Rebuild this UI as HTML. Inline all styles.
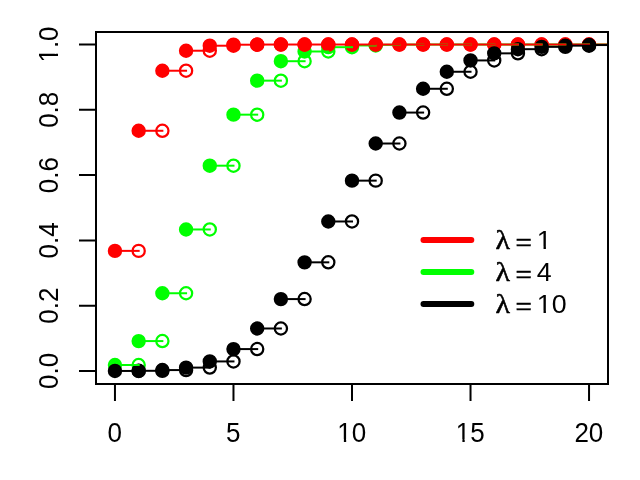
<!DOCTYPE html>
<html lang="en">
<head>
<meta charset="utf-8">
<title>Poisson cumulative distribution function</title>
<style>
html,body{margin:0;padding:0;background:#fff;overflow:hidden}
svg{display:block}
text{font-family:"Liberation Sans",sans-serif;font-size:26px;fill:#000}
.s{font-family:"Liberation Serif",serif}
.g{stroke:#0f0}.r{stroke:#f00}.k{stroke:#000}
circle.g{fill:#0f0}circle.r{fill:#f00}circle.k{fill:#000}
#pts circle.o{fill:none;stroke-width:2.25}
#pts *{stroke-width:2;stroke-linecap:square}
#pts path{fill:none}
</style>
</head>
<body>
<svg width="640" height="480" viewBox="0 0 640 480">
<rect width="640" height="480" fill="#fff"/>
<defs><clipPath id="a"><path d="M-5 -30H60V5H14.2V-2.6H8.84V5H6.54V-2.6H-5Z"/></clipPath><clipPath id="b"><path d="M-20 -30H20V5H-.8V-2.6H-5.62V5H-7.92V-2.6H-20Z"/></clipPath><clipPath id="d"><path d="M-25 -30H25V5H-4.4V-2.6H-9.23V5H-11.53V-2.6H-25Z"/></clipPath></defs>
<defs><clipPath id="c"><rect x="96" y="32" width="512" height="352"/></clipPath></defs>
<g id="pts" clip-path="url(#c)">
<path class="g" d="M589.04 44.52H612.74"/>
<circle class="r o" cx="589.04" cy="44.52" r="6.1"/>
<circle class="r" cx="589.04" cy="44.52" r="6.2"/>
<path class="r" d="M589.04 44.52H612.74"/>
<circle class="k o" cx="589.04" cy="45.65" r="6.1"/>
<circle class="k" cx="589.04" cy="45.04" r="6.2"/>
<path class="k" d="M589.04 45.04H612.74"/>
<path class="g" d="M565.33 44.52H589.04"/>
<circle class="r o" cx="565.33" cy="44.52" r="6.1"/>
<circle class="r" cx="565.33" cy="44.52" r="6.2"/>
<path class="r" d="M565.33 44.52H589.04"/>
<circle class="k o" cx="565.33" cy="46.86" r="6.1"/>
<circle class="k" cx="565.33" cy="45.65" r="6.2"/>
<path class="k" d="M565.33 45.65H589.04"/>
<path class="g" d="M541.63 44.52H565.33"/>
<circle class="r o" cx="541.63" cy="44.52" r="6.1"/>
<circle class="r" cx="541.63" cy="44.52" r="6.2"/>
<path class="r" d="M541.63 44.52H565.33"/>
<circle class="k o" cx="541.63" cy="49.18" r="6.1"/>
<circle class="k" cx="541.63" cy="46.86" r="6.2"/>
<path class="k" d="M541.63 46.86H565.33"/>
<path class="g" d="M517.93 44.52H541.63"/>
<circle class="r o" cx="517.93" cy="44.52" r="6.1"/>
<circle class="r" cx="517.93" cy="44.52" r="6.2"/>
<path class="r" d="M517.93 44.52H541.63"/>
<circle class="k o" cx="517.93" cy="53.35" r="6.1"/>
<circle class="k" cx="517.93" cy="49.18" r="6.2"/>
<path class="k" d="M517.93 49.18H541.63"/>
<path class="g" d="M494.22 44.52H517.93"/>
<circle class="r o" cx="494.22" cy="44.52" r="6.1"/>
<circle class="r" cx="494.22" cy="44.52" r="6.2"/>
<path class="r" d="M494.22 44.52H517.93"/>
<circle class="k o" cx="494.22" cy="60.43" r="6.1"/>
<circle class="k" cx="494.22" cy="53.35" r="6.2"/>
<path class="k" d="M494.22 53.35H517.93"/>
<path class="g" d="M470.52 44.52H494.22"/>
<circle class="r o" cx="470.52" cy="44.52" r="6.1"/>
<circle class="r" cx="470.52" cy="44.52" r="6.2"/>
<path class="r" d="M470.52 44.52H494.22"/>
<circle class="k o" cx="470.52" cy="71.76" r="6.1"/>
<circle class="k" cx="470.52" cy="60.43" r="6.2"/>
<path class="k" d="M470.52 60.43H494.22"/>
<path class="g" d="M446.81 44.53H470.52"/>
<circle class="r o" cx="446.81" cy="44.52" r="6.1"/>
<circle class="r" cx="446.81" cy="44.52" r="6.2"/>
<path class="r" d="M446.81 44.52H470.52"/>
<circle class="k o" cx="446.81" cy="88.77" r="6.1"/>
<circle class="k" cx="446.81" cy="71.76" r="6.2"/>
<path class="k" d="M446.81 71.76H470.52"/>
<path class="g" d="M423.11 44.54H446.81"/>
<circle class="r o" cx="423.11" cy="44.52" r="6.1"/>
<circle class="r" cx="423.11" cy="44.52" r="6.2"/>
<path class="r" d="M423.11 44.52H446.81"/>
<circle class="k o" cx="423.11" cy="112.57" r="6.1"/>
<circle class="k" cx="423.11" cy="88.77" r="6.2"/>
<path class="k" d="M423.11 88.77H446.81"/>
<path class="g" d="M399.41 44.61H423.11"/>
<circle class="r o" cx="399.41" cy="44.52" r="6.1"/>
<circle class="r" cx="399.41" cy="44.52" r="6.2"/>
<path class="r" d="M399.41 44.52H423.11"/>
<circle class="k o" cx="399.41" cy="143.51" r="6.1"/>
<circle class="k" cx="399.41" cy="112.57" r="6.2"/>
<path class="k" d="M399.41 112.57H423.11"/>
<circle class="g o" cx="375.7" cy="45.45" r="6.1"/>
<path class="g" d="M375.7 44.82H399.41"/>
<circle class="r o" cx="375.7" cy="44.52" r="6.1"/>
<circle class="r" cx="375.7" cy="44.52" r="6.2"/>
<path class="r" d="M375.7 44.52H399.41"/>
<circle class="k o" cx="375.7" cy="180.64" r="6.1"/>
<circle class="k" cx="375.7" cy="143.51" r="6.2"/>
<path class="k" d="M375.7 143.51H399.41"/>
<circle class="g o" cx="352" cy="47.17" r="6.1"/>
<circle class="g" cx="352" cy="45.45" r="6.2"/>
<path class="g" d="M352 45.45H375.7"/>
<circle class="r o" cx="352" cy="44.52" r="6.1"/>
<circle class="r" cx="352" cy="44.52" r="6.2"/>
<path class="r" d="M352 44.52H375.7"/>
<circle class="k o" cx="352" cy="221.48" r="6.1"/>
<circle class="k" cx="352" cy="180.64" r="6.2"/>
<path class="k" d="M352 180.64H375.7"/>
<circle class="g o" cx="328.3" cy="51.49" r="6.1"/>
<circle class="g" cx="328.3" cy="47.17" r="6.2"/>
<path class="g" d="M328.3 47.17H352"/>
<circle class="r o" cx="328.3" cy="44.52" r="6.1"/>
<circle class="r" cx="328.3" cy="44.52" r="6.2"/>
<path class="r" d="M328.3 44.52H352"/>
<circle class="k o" cx="328.3" cy="262.33" r="6.1"/>
<circle class="k" cx="328.3" cy="221.48" r="6.2"/>
<path class="k" d="M328.3 221.48H352"/>
<circle class="g o" cx="304.59" cy="61.21" r="6.1"/>
<circle class="g" cx="304.59" cy="51.49" r="6.2"/>
<path class="g" d="M304.59 51.49H328.3"/>
<circle class="r o" cx="304.59" cy="44.52" r="6.1"/>
<circle class="r" cx="304.59" cy="44.52" r="6.2"/>
<path class="r" d="M304.59 44.52H328.3"/>
<circle class="k o" cx="304.59" cy="299.08" r="6.1"/>
<circle class="k" cx="304.59" cy="262.33" r="6.2"/>
<path class="k" d="M304.59 262.33H328.3"/>
<circle class="g o" cx="280.89" cy="80.65" r="6.1"/>
<circle class="g" cx="280.89" cy="61.21" r="6.2"/>
<path class="g" d="M280.89 61.21H304.59"/>
<circle class="r o" cx="280.89" cy="44.55" r="6.1"/>
<circle class="r" cx="280.89" cy="44.52" r="6.2"/>
<path class="r" d="M280.89 44.52H304.59"/>
<circle class="k o" cx="280.89" cy="328.49" r="6.1"/>
<circle class="k" cx="280.89" cy="299.08" r="6.2"/>
<path class="k" d="M280.89 299.08H304.59"/>
<circle class="g o" cx="257.19" cy="114.66" r="6.1"/>
<circle class="g" cx="257.19" cy="80.65" r="6.2"/>
<path class="g" d="M257.19 80.65H280.89"/>
<circle class="r o" cx="257.19" cy="44.71" r="6.1"/>
<circle class="r" cx="257.19" cy="44.55" r="6.2"/>
<path class="r" d="M257.19 44.55H280.89"/>
<circle class="k o" cx="257.19" cy="349.08" r="6.1"/>
<circle class="k" cx="257.19" cy="328.49" r="6.2"/>
<path class="k" d="M257.19 328.49H280.89"/>
<circle class="g o" cx="233.48" cy="165.69" r="6.1"/>
<circle class="g" cx="233.48" cy="114.66" r="6.2"/>
<path class="g" d="M233.48 114.66H257.19"/>
<circle class="r o" cx="233.48" cy="45.71" r="6.1"/>
<circle class="r" cx="233.48" cy="44.71" r="6.2"/>
<path class="r" d="M233.48 44.71H257.19"/>
<circle class="k o" cx="233.48" cy="361.43" r="6.1"/>
<circle class="k" cx="233.48" cy="349.08" r="6.2"/>
<path class="k" d="M233.48 349.08H257.19"/>
<circle class="g o" cx="209.78" cy="229.47" r="6.1"/>
<circle class="g" cx="209.78" cy="165.69" r="6.2"/>
<path class="g" d="M209.78 165.69H233.48"/>
<circle class="r o" cx="209.78" cy="50.72" r="6.1"/>
<circle class="r" cx="209.78" cy="45.71" r="6.2"/>
<path class="r" d="M209.78 45.71H233.48"/>
<circle class="k o" cx="209.78" cy="367.6" r="6.1"/>
<circle class="k" cx="209.78" cy="361.43" r="6.2"/>
<path class="k" d="M209.78 361.43H233.48"/>
<circle class="g o" cx="186.07" cy="293.25" r="6.1"/>
<circle class="g" cx="186.07" cy="229.47" r="6.2"/>
<path class="g" d="M186.07 229.47H209.78"/>
<circle class="r o" cx="186.07" cy="70.73" r="6.1"/>
<circle class="r" cx="186.07" cy="50.72" r="6.2"/>
<path class="r" d="M186.07 50.72H209.78"/>
<circle class="k o" cx="186.07" cy="370.07" r="6.1"/>
<circle class="k" cx="186.07" cy="367.6" r="6.2"/>
<path class="k" d="M186.07 367.6H209.78"/>
<circle class="g o" cx="162.37" cy="341.08" r="6.1"/>
<circle class="g" cx="162.37" cy="293.25" r="6.2"/>
<path class="g" d="M162.37 293.25H186.07"/>
<circle class="r o" cx="162.37" cy="130.78" r="6.1"/>
<circle class="r" cx="162.37" cy="70.73" r="6.2"/>
<path class="r" d="M162.37 70.73H186.07"/>
<circle class="k o" cx="162.37" cy="370.81" r="6.1"/>
<circle class="k" cx="162.37" cy="370.07" r="6.2"/>
<path class="k" d="M162.37 370.07H186.07"/>
<circle class="g o" cx="138.67" cy="365" r="6.1"/>
<circle class="g" cx="138.67" cy="341.08" r="6.2"/>
<path class="g" d="M138.67 341.08H162.37"/>
<circle class="r o" cx="138.67" cy="250.88" r="6.1"/>
<circle class="r" cx="138.67" cy="130.78" r="6.2"/>
<path class="r" d="M138.67 130.78H162.37"/>
<circle class="k o" cx="138.67" cy="370.96" r="6.1"/>
<circle class="k" cx="138.67" cy="370.81" r="6.2"/>
<path class="k" d="M138.67 370.81H162.37"/>
<circle class="g" cx="114.96" cy="365" r="6.2"/>
<path class="g" d="M114.96 365H138.67"/>
<circle class="r" cx="114.96" cy="250.88" r="6.2"/>
<path class="r" d="M114.96 250.88H138.67"/>
<circle class="k" cx="114.96" cy="370.96" r="6.2"/>
<path class="k" d="M114.96 370.96H138.67"/>
</g>
<g fill="none" stroke="#000" stroke-width="2" stroke-linecap="square" stroke-linejoin="miter">
<rect x="96" y="32" width="512" height="352"/>
<path d="M114.96 384v16M233.48 384v16M352 384v16M470.52 384v16M589.04 384v16M96 370.98h-16M96 305.69h-16M96 240.39h-16M96 175.1h-16M96 109.81h-16M96 44.52h-16"/>
</g>
<text transform="translate(114.76 442.1) scale(1 1.075)" text-anchor="middle">0</text>
<text transform="translate(233.28 442.1) scale(1 1.075)" text-anchor="middle">5</text>
<text transform="translate(351.8 442.1) scale(1 1.075)" text-anchor="middle" clip-path="url(#b)">10</text>
<text transform="translate(470.32 442.1) scale(1 1.075)" text-anchor="middle" clip-path="url(#b)">15</text>
<text transform="translate(588.84 442.1) scale(1 1.075)" text-anchor="middle">20</text>
<text transform="translate(57.6 370.98) rotate(-90) scale(1 1.075)" text-anchor="middle">0.0</text>
<text transform="translate(57.6 305.69) rotate(-90) scale(1 1.075)" text-anchor="middle">0.2</text>
<text transform="translate(57.6 240.39) rotate(-90) scale(1 1.075)" text-anchor="middle">0.4</text>
<text transform="translate(57.6 175.1) rotate(-90) scale(1 1.075)" text-anchor="middle">0.6</text>
<text transform="translate(57.6 109.81) rotate(-90) scale(1 1.075)" text-anchor="middle">0.8</text>
<text transform="translate(57.6 44.52) rotate(-90) scale(1 1.075)" text-anchor="middle" clip-path="url(#d)">1.0</text>
<path d="M423.5 240H471.3" stroke="#f00" stroke-width="6" stroke-linecap="round" fill="none"/>
<text class="s" transform="translate(495.5 249.45) scale(1.1 1)" style="font-size:27.2px;stroke:#000;stroke-width:.5px">λ</text>
<text transform="translate(515.4 250.15) scale(1.08 0.85)" style="stroke:#000;stroke-width:.4px">=</text>
<text transform="translate(536.8 249.45) scale(1.03 1.005)" clip-path="url(#a)">1</text>
<path d="M423.5 272H471.3" stroke="#0f0" stroke-width="6" stroke-linecap="round" fill="none"/>
<text class="s" transform="translate(495.5 281.45) scale(1.1 1)" style="font-size:27.2px;stroke:#000;stroke-width:.5px">λ</text>
<text transform="translate(515.4 282.15) scale(1.08 0.85)" style="stroke:#000;stroke-width:.4px">=</text>
<text transform="translate(536.8 281.45) scale(1.03 1.005)">4</text>
<path d="M423.5 304H471.3" stroke="#000" stroke-width="6" stroke-linecap="round" fill="none"/>
<text class="s" transform="translate(495.5 313.45) scale(1.1 1)" style="font-size:27.2px;stroke:#000;stroke-width:.5px">λ</text>
<text transform="translate(515.4 314.15) scale(1.08 0.85)" style="stroke:#000;stroke-width:.4px">=</text>
<text transform="translate(536.8 313.45) scale(1.03 1.005)" clip-path="url(#a)">10</text>
</svg>
</body>
</html>
